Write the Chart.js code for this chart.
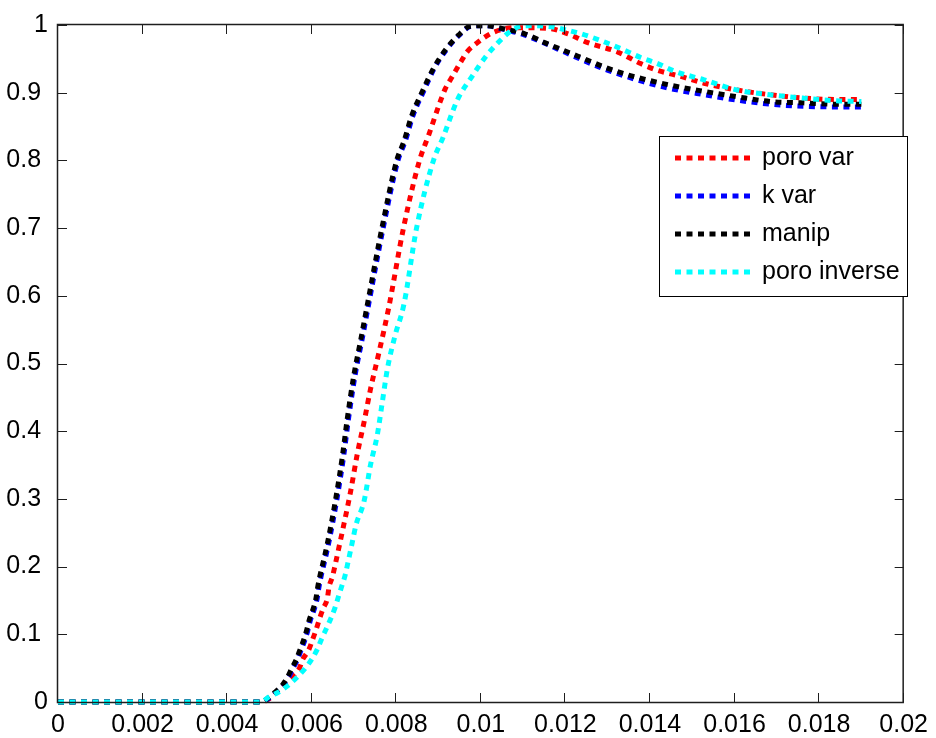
<!DOCTYPE html>
<html>
<head>
<meta charset="utf-8">
<script src="https://cdn.jsdelivr.net/npm/chart.js@4.4.1/dist/chart.umd.min.js"></script>
<style>
  html, body { margin: 0; padding: 0; background: #fff; }
  canvas { display: block; }
</style>
</head>
<body>
<canvas id="breakthrough" width="936" height="738"></canvas>
<script>
// values
const poroVarX = [0, 0.0048, 0.00502, 0.00516, 0.00531, 0.00551, 0.00571, 0.00578, 0.00593, 0.00602,
  0.0061, 0.00618, 0.00627, 0.00637, 0.00641, 0.00649, 0.00655, 0.00666, 0.00677, 0.00692,
  0.00708, 0.00724, 0.00739, 0.00759, 0.00782, 0.00817, 0.00855, 0.00877, 0.00904, 0.00916,
  0.00928, 0.00955, 0.00967, 0.0099, 0.01029, 0.01081, 0.01159, 0.01206, 0.01253, 0.01324,
  0.01378, 0.01418, 0.01473, 0.01528, 0.01606, 0.01684, 0.01763, 0.01841, 0.019];
const poroVarY = [0, 0, 0.006, 0.014, 0.023, 0.035, 0.05, 0.062, 0.077, 0.092,
  0.106, 0.122, 0.138, 0.153, 0.17, 0.185, 0.201, 0.233, 0.265, 0.311,
  0.367, 0.414, 0.462, 0.516, 0.582, 0.7, 0.8, 0.838, 0.887, 0.906,
  0.919, 0.948, 0.96, 0.973, 0.989, 0.996, 0.995, 0.987, 0.974, 0.96,
  0.943, 0.933, 0.924, 0.914, 0.904, 0.897, 0.892, 0.89, 0.89];

const kVarX = [0, 0.0048, 0.00498, 0.00515, 0.00531, 0.00546, 0.00556, 0.00566, 0.00574, 0.00583,
  0.00591, 0.00597, 0.00605, 0.00613, 0.00617, 0.00622, 0.00628, 0.0064, 0.0066, 0.00676,
  0.00687, 0.00703, 0.00719, 0.00734, 0.00769, 0.00804, 0.00821, 0.0084, 0.00864, 0.0089,
  0.00918, 0.00949, 0.00977, 0.0101, 0.01057, 0.01104, 0.01151, 0.01198, 0.01245, 0.01292,
  0.01339, 0.01386, 0.01449, 0.01528, 0.01606, 0.01684, 0.01763, 0.01841, 0.019];
const kVarY = [0, 0, 0.005, 0.014, 0.023, 0.037, 0.05, 0.062, 0.075, 0.09,
  0.106, 0.121, 0.135, 0.153, 0.169, 0.185, 0.201, 0.234, 0.301, 0.365,
  0.418, 0.484, 0.535, 0.585, 0.7, 0.8, 0.828, 0.867, 0.901, 0.936,
  0.963, 0.985, 0.998, 0.999, 0.993, 0.985, 0.973, 0.96, 0.947, 0.935,
  0.925, 0.916, 0.906, 0.897, 0.889, 0.883, 0.88, 0.879, 0.879];

const manipX = [0, 0.0048, 0.00495, 0.00512, 0.00528, 0.00543, 0.00553, 0.00563, 0.00571, 0.0058,
  0.00588, 0.00594, 0.00602, 0.0061, 0.00614, 0.00619, 0.00625, 0.00637, 0.00657, 0.00673,
  0.00684, 0.007, 0.00716, 0.00731, 0.00766, 0.00801, 0.00818, 0.00837, 0.00861, 0.00888,
  0.00916, 0.00947, 0.00975, 0.0101, 0.01057, 0.01104, 0.01151, 0.01198, 0.01245, 0.01292,
  0.01339, 0.01386, 0.01449, 0.01528, 0.01606, 0.01684, 0.01763, 0.01841, 0.019];
const manipY = [0, 0, 0.005, 0.014, 0.023, 0.037, 0.05, 0.062, 0.075, 0.09,
  0.106, 0.121, 0.135, 0.153, 0.169, 0.185, 0.201, 0.234, 0.301, 0.365,
  0.418, 0.484, 0.535, 0.585, 0.7, 0.8, 0.828, 0.867, 0.901, 0.936,
  0.963, 0.985, 0.998, 0.999, 0.994, 0.987, 0.974, 0.962, 0.95, 0.938,
  0.928, 0.92, 0.911, 0.902, 0.894, 0.887, 0.885, 0.883, 0.883];

const poroInvX = [0, 0.0048, 0.005, 0.0052, 0.00539, 0.00563, 0.00585, 0.00602, 0.00614, 0.00624,
  0.00635, 0.00645, 0.00655, 0.00663, 0.00671, 0.00679, 0.00684, 0.00695, 0.00705, 0.00724,
  0.00739, 0.00755, 0.00767, 0.00779, 0.00797, 0.00818, 0.00848, 0.00888, 0.0091, 0.00945,
  0.00978, 0.0101, 0.01041, 0.01073, 0.01104, 0.01159, 0.01206, 0.01237, 0.01284, 0.01331,
  0.01378, 0.01418, 0.01457, 0.01528, 0.01606, 0.01684, 0.01763, 0.01841, 0.019];
const poroInvY = [0, 0, 0.008, 0.014, 0.022, 0.035, 0.05, 0.065, 0.079, 0.094,
  0.109, 0.123, 0.139, 0.155, 0.171, 0.187, 0.201, 0.233, 0.262, 0.297,
  0.35, 0.394, 0.443, 0.492, 0.541, 0.587, 0.7, 0.8, 0.833, 0.89,
  0.923, 0.952, 0.974, 0.992, 0.999, 0.998, 0.992, 0.987, 0.977, 0.965,
  0.952, 0.943, 0.932, 0.919, 0.904, 0.897, 0.892, 0.888, 0.887];

const xTickValues = [0, 0.002, 0.004, 0.006, 0.008, 0.01, 0.012, 0.014, 0.016, 0.018, 0.02];
const xTickLabels = ['0', '0.002', '0.004', '0.006', '0.008', '0.01', '0.012', '0.014', '0.016', '0.018', '0.02'];
const yTickValues = [0, 0.1, 0.2, 0.3, 0.4, 0.5, 0.6, 0.7, 0.8, 0.9, 1];
const yTickLabels = ['0', '0.1', '0.2', '0.3', '0.4', '0.5', '0.6', '0.7', '0.8', '0.9', '1'];

const FONT_FAMILY = '"Liberation Sans", Arial, Helvetica, sans-serif';
const FONT_SIZE = 25;
const DOTS = [6, 5.5];

function pairs(xs, ys) {
  return xs.map((x, i) => ({ x: x, y: ys[i] }));
}

function series(label, color, xs, ys, order) {
  return {
    label: label,
    data: pairs(xs, ys),
    borderColor: color,
    backgroundColor: color,
    borderWidth: 5,
    borderDash: DOTS,
    borderCapStyle: 'butt',
    pointRadius: 0,
    fill: false,
    cubicInterpolationMode: 'monotone',
    clip: { left: 10, top: 0, right: 10, bottom: 10 },
    order: order
  };
}

// matlab style box with inward ticks on all four sides
const axesBox = {
  id: 'axesBox',
  afterDatasetsDraw(chart) {
    const { ctx, chartArea: a, scales } = chart;
    const tick = 9;
    ctx.save();
    ctx.strokeStyle = '#1e1e1e';
    ctx.lineWidth = 1;
    ctx.beginPath();
    xTickValues.forEach(v => {
      const px = Math.round(scales.x.getPixelForValue(v)) - 0.5;
      ctx.moveTo(px, a.bottom);
      ctx.lineTo(px, a.bottom - tick);
      ctx.moveTo(px, a.top);
      ctx.lineTo(px, a.top + tick);
    });
    yTickValues.forEach(v => {
      const py = Math.round(scales.y.getPixelForValue(v)) + 0.5;
      ctx.moveTo(a.left, py);
      ctx.lineTo(a.left + tick, py);
      ctx.moveTo(a.right, py);
      ctx.lineTo(a.right - tick, py);
    });
    ctx.stroke();
    ctx.lineWidth = 1.5;
    ctx.strokeRect(a.left - 0.5, a.top - 0.5, a.right - a.left, a.bottom - a.top + 1);
    ctx.restore();
  }
};

const legendBox = {
  id: 'legendBox',
  afterDraw(chart) {
    const ctx = chart.ctx;
    const left = 659.5, top = 136.5, w = 248, h = 160;
    ctx.save();
    ctx.fillStyle = '#fff';
    ctx.fillRect(left, top, w, h);
    ctx.strokeStyle = '#000';
    ctx.lineWidth = 1;
    ctx.strokeRect(left, top, w, h);
    ctx.font = FONT_SIZE + 'px ' + FONT_FAMILY;
    ctx.textBaseline = 'middle';
    chart.data.datasets.forEach((ds, i) => {
      const y = 158 + i * 38;
      ctx.strokeStyle = ds.borderColor;
      ctx.lineWidth = 5;
      ctx.setLineDash(DOTS);
      ctx.beginPath();
      ctx.moveTo(675, y);
      ctx.lineTo(751, y);
      ctx.stroke();
      ctx.setLineDash([]);
      ctx.fillStyle = '#000';
      ctx.fillText(ds.label, 762, y);
    });
    ctx.restore();
  }
};

const config = {
  type: 'line',
  data: {
    datasets: [
      series('poro var', '#ff0000', poroVarX, poroVarY, 4),
      series('k var', '#0000ff', kVarX, kVarY, 3),
      series('manip', '#000000', manipX, manipY, 2),
      series('poro inverse', '#00ffff', poroInvX, poroInvY, 1)
    ]
  },
  options: {
    responsive: false,
    animation: false,
    devicePixelRatio: 1,
    layout: {
      padding: { top: 20, right: 28, left: 0, bottom: 0 }
    },
    scales: {
      x: {
        type: 'linear',
        min: 0,
        max: 0.02,
        afterBuildTicks: s => { s.ticks = xTickValues.map(v => ({ value: v })); },
        afterFit: s => { s.height = 36; },
        grid: { display: false, drawTicks: false },
        border: { display: false },
        ticks: {
          autoSkip: false,
          maxRotation: 0,
          padding: 8,
          color: '#000',
          font: { family: FONT_FAMILY, size: FONT_SIZE },
          callback: (v, i) => xTickLabels[i]
        }
      },
      y: {
        type: 'linear',
        min: 0,
        max: 1,
        afterBuildTicks: s => { s.ticks = yTickValues.map(v => ({ value: v })); },
        afterFit: s => { s.width = 58; },
        grid: { display: false, drawTicks: false },
        border: { display: false },
        ticks: {
          autoSkip: false,
          padding: 10,
          color: '#000',
          font: { family: FONT_FAMILY, size: FONT_SIZE },
          // the decimal labels sit a little further left than 0 and 1 in the original
          callback: (v, i) => yTickLabels[i].length > 1 ? yTickLabels[i] + ' ' : yTickLabels[i]
        }
      }
    },
    plugins: {
      legend: { display: false },
      tooltip: { enabled: false },
      title: { display: false }
    }
  },
  plugins: [axesBox, legendBox]
};

const myChart = new Chart(
  document.getElementById('breakthrough'),
  config
);
</script>
</body>
</html>
